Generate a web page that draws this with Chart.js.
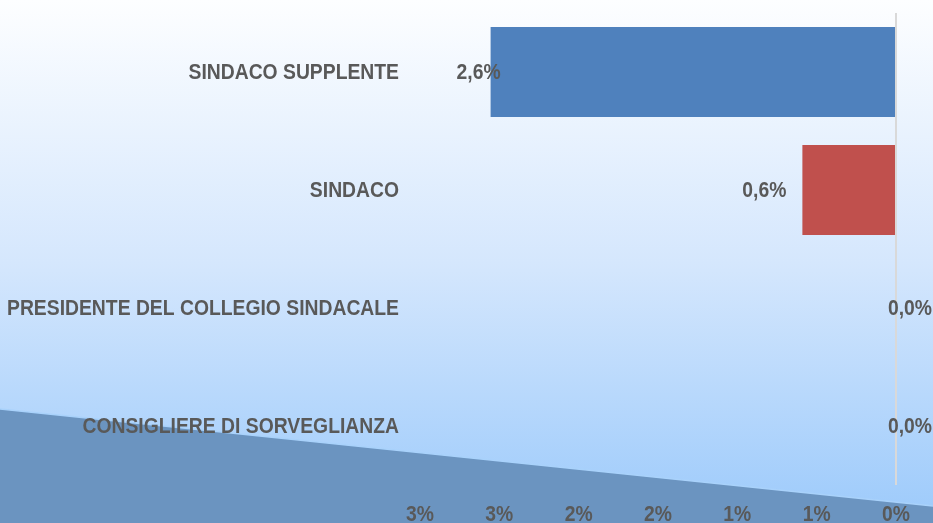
<!DOCTYPE html>
<html>
<head>
<meta charset="utf-8">
<script src="https://cdn.jsdelivr.net/npm/chart.js@4/dist/chart.umd.min.js"></script>
<style>
  html, body { margin: 0; padding: 0; background: #ffffff; }
  #wrap { width: 933px; height: 523px; position: relative; }
</style>
</head>
<body>
<div id="wrap"><canvas id="myChart" width="933" height="523"></canvas></div>
<script>
const categories = [
  "SINDACO SUPPLENTE",
  "SINDACO",
  "PRESIDENTE DEL COLLEGIO SINDACALE",
  "CONSIGLIERE DI SORVEGLIANZA",
];
const values = [2.555, 0.59, 0, 0];
const barColors = ["#4f81bd", "#c0504d", "#9bbb59", "#8064a2"];
const tickValues = [3, 2.5, 2, 1.5, 1, 0.5, 0];

const FONT = "bold 22px 'Liberation Sans', Arial, sans-serif";
const TEXT_COLOR = "#595959";

// background gradient and the dark slanted shape at the bottom
const backdrop = {
  id: "backdrop",
  beforeDraw(chart) {
    const { ctx, width, height } = chart;
    ctx.save();
    const g = ctx.createLinearGradient(0, 0, 0, height);
    g.addColorStop(0, "#fdfeff");
    g.addColorStop(0.5, "#d5e7fd");
    g.addColorStop(1, "#9ccafb");
    ctx.fillStyle = g;
    ctx.fillRect(0, 0, width, height);

    ctx.beginPath();
    ctx.moveTo(0, 409);
    ctx.lineTo(width, 506);
    ctx.lineTo(width, height);
    ctx.lineTo(0, height);
    ctx.closePath();
    ctx.fillStyle = "#6b94c0";
    ctx.fill();
    ctx.beginPath();
    ctx.moveTo(0, 409);
    ctx.lineTo(width, 506);
    ctx.strokeStyle = "#a9d2fb";
    ctx.lineWidth = 1.5;
    ctx.stroke();
    ctx.restore();
  },
};

// narrow bold text (Arial Narrow look): squeeze Liberation Sans horizontally
function narrowText(ctx, txt, x, y, align, baseline, sx) {
  ctx.save();
  ctx.font = FONT;
  ctx.fillStyle = TEXT_COLOR;
  ctx.textAlign = align;
  ctx.textBaseline = baseline;
  ctx.translate(x, y);
  ctx.scale(sx, 1);
  ctx.fillText(txt, 0, 0);
  ctx.restore();
}

const textLayer = {
  id: "textLayer",
  afterDatasetsDraw(chart, args, opts) {
    const { ctx, chartArea } = chart;
    const xScale = chart.scales.x;
    const yScale = chart.scales.y;

    ctx.save();
    ctx.font = FONT;
    const longest = Math.max(...categories.map((c) => ctx.measureText(c).width));
    ctx.restore();
    const sx = opts.labelWidth / longest;

    // category labels
    categories.forEach((c, i) => {
      narrowText(ctx, c, chartArea.left - 21, yScale.getPixelForTick(i) + 1, "right", "middle", sx);
    });

    // value labels, comma decimals
    const meta = chart.getDatasetMeta(0);
    meta.data.forEach((bar, i) => {
      const txt = values[i].toFixed(1).replace(".", ",") + "%";
      narrowText(ctx, txt, bar.x + opts.offsets[i], bar.y + 1, "center", "middle", sx);
    });

    // x tick labels
    xScale.ticks.forEach((t, i) => {
      const px = xScale.getPixelForTick(i);
      narrowText(ctx, Math.round(t.value) + "%", px, chartArea.bottom + 36, "center", "alphabetic", sx);
    });
  },
};

const ctx = document.getElementById("myChart").getContext("2d");
new Chart(ctx, {
  type: "bar",
  data: {
    labels: categories,
    datasets: [
      {
        data: values,
        backgroundColor: barColors,
        borderWidth: 0,
        barPercentage: 0.763,
        categoryPercentage: 1,
      },
    ],
  },
  options: {
    indexAxis: "y",
    responsive: false,
    animation: false,
    layout: { padding: { top: 13, right: 37, left: 0, bottom: 0 } },
    plugins: {
      legend: { display: false },
      tooltip: { enabled: false },
      textLayer: { offsets: [-12, -38, 14, 14], labelWidth: 392 },
    },
    scales: {
      x: {
        min: 0,
        max: 3,
        reverse: true,
        afterBuildTicks(scale) {
          scale.ticks = tickValues.map((v) => ({ value: v }));
        },
        afterFit(scale) {
          scale.height = 38;
        },
        border: { display: false },
        grid: {
          drawTicks: false,
          color: (c) => (c.tick && c.tick.value === 0 ? "#d9d9d9" : "rgba(0,0,0,0)"),
          lineWidth: 2,
        },
        ticks: { display: false },
      },
      y: {
        afterFit(scale) {
          scale.width = 420;
        },
        border: { display: false },
        grid: { display: false, drawTicks: false },
        ticks: { display: false },
      },
    },
  },
  plugins: [backdrop, textLayer],
});
</script>
</body>
</html>
